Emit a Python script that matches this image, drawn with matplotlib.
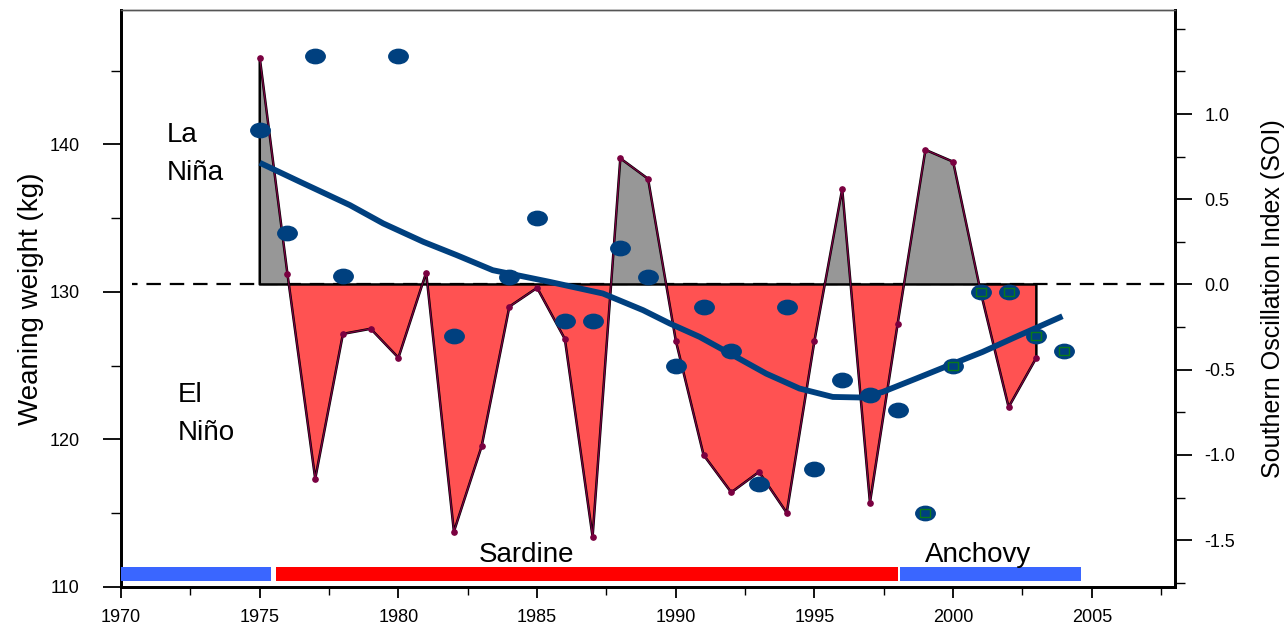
import numpy as np
import matplotlib
matplotlib.use("Agg")
import matplotlib.pyplot as plt
from matplotlib.path import Path
from matplotlib.ticker import MultipleLocator

plt.rcParams['font.family'] = ['Liberation Sans', 'DejaVu Sans']

# SOI, annual values
soi_years = [1975, 1976, 1977, 1978, 1979, 1980, 1981, 1982, 1983, 1984,
             1985, 1986, 1987, 1988, 1989, 1990, 1991, 1992, 1993, 1994,
             1995, 1996, 1997, 1998, 1999, 2000, 2001, 2002, 2003]
soi_values = [1.33, 0.06, -1.14, -0.29, -0.26, -0.43, 0.07, -1.45, -0.95, -0.13,
              -0.02, -0.32, -1.48, 0.74, 0.62, -0.33, -1.00, -1.22, -1.10, -1.34,
              -0.33, 0.56, -1.28, -0.23, 0.79, 0.72, -0.05, -0.72, -0.43]

# weaning weight (kg)
wean_years = [1975, 1976, 1977, 1978, 1980, 1982, 1984, 1985, 1986, 1987,
              1988, 1989, 1990, 1991, 1992, 1993, 1994, 1995, 1996, 1997,
              1998, 1999, 2000, 2001, 2002, 2003, 2004]
wean_weight = [141.0, 134.0, 146.0, 131.1, 146.0, 127.0, 131.0, 135.0, 128.0, 128.0,
               133.0, 131.0, 125.0, 129.0, 126.0, 117.0, 129.0, 118.0, 124.0, 123.0,
               122.0, 115.0, 125.0, 130.0, 130.0, 127.0, 126.0]
# later years flagged with a square
flag_years = [1999, 2000, 2001, 2002, 2003, 2004]
flag_weight = [115.0, 125.0, 130.0, 130.0, 127.0, 126.0]

# smoothed trend of weaning weight
trend_years = [1975.0, 1976.45, 1978.25, 1979.45, 1980.9, 1982.1, 1983.4, 1985.45,
               1987.37, 1988.82, 1989.78, 1990.86, 1992.06, 1993.26, 1994.46,
               1995.66, 1996.74, 1997.46, 1998.66, 1999.86, 2001.06, 2002.26, 2003.94]
trend_weight = [138.75, 137.46, 135.88, 134.64, 133.39, 132.49, 131.47, 130.68,
                129.89, 128.76, 127.86, 126.95, 125.71, 124.46, 123.45,
                122.88, 122.84, 123.22, 124.12, 125.03, 125.93, 126.95, 128.35]

# fishery regimes
regime_start = [1970.0, 1975.6, 1998.1]
regime_end = [1975.4, 1998.0, 2004.6]
regime_color = ['#3a66ff', '#ff0000', '#3a66ff']

BLUE = '#00407f'
PURPLE = '#7a0040'

soi_years = np.array(soi_years)
soi_values = np.array(soi_values)

# ellipse marker for the blue dots, flat rectangle for the flags
circ = Path.unit_circle()
ellipse = Path(circ.vertices * [1.0, 0.74], circ.codes)
rect = Path([(-1, -0.7), (1, -0.7), (1, 0.7), (-1, 0.7), (-1, -0.7)],
            [Path.MOVETO, Path.LINETO, Path.LINETO, Path.LINETO, Path.CLOSEPOLY])

fig = plt.figure(figsize=(12.88, 6.28), dpi=100)
ax = fig.add_axes([0.094, 0.0653, 0.8183, 0.9187])
ax2 = ax.twinx()
ax.set_zorder(ax2.get_zorder() + 1)
ax.patch.set_visible(False)

# SOI polygons
ax2.fill_between(soi_years, soi_values, 0, where=soi_values >= 0, interpolate=True,
                 facecolor='#979797', edgecolor='black', linewidth=1.8, zorder=2)
ax2.fill_between(soi_years, soi_values, 0, where=soi_values <= 0, interpolate=True,
                 facecolor='#ff5252', edgecolor='black', linewidth=1.8, zorder=2)
ax2.plot(soi_years, soi_values, color=PURPLE, lw=0.9, marker='o', ms=3.8,
         mfc=PURPLE, mec=PURPLE, zorder=3)
ax2.axhline(0, xmin=0.01, xmax=0.997, color='black', lw=1.6,
            linestyle=(4, (6.5, 4.0)), zorder=1)

ax2.set_ylim(-1.775, 1.61)
ax2.yaxis.set_minor_locator(MultipleLocator(0.25))
ax2.set_yticks([-1.5, -1.0, -0.5, 0.0, 0.5, 1.0])
ax2.set_yticklabels(['-1.5', '-1.0', '-0.5', '0.0', '0.5', '1.0'])
ax2.tick_params(axis='y', which='major', length=12, width=1.3, labelsize=13, pad=9)
ax2.tick_params(axis='y', which='minor', length=7, width=1.0)
ax2.set_ylabel('Southern Oscillation Index (SOI)', fontsize=18, labelpad=19)

# weaning weight
ax.plot(trend_years, trend_weight, color=BLUE, lw=4.2, solid_capstyle='butt',
        solid_joinstyle='round', zorder=4)
ax.plot(wean_years, wean_weight, linestyle='none', marker=ellipse, ms=14,
        mfc=BLUE, mec=BLUE, zorder=5)
ax.plot(flag_years, flag_weight, linestyle='none', marker=rect, ms=7.5,
        mfc='none', mec='#0a7a1a', mew=1.0, zorder=6)

# fishery regime bars
for s, e, c in zip(regime_start, regime_end, regime_color):
    ax.barh(110.9, e - s, left=s, height=0.95, color=c, zorder=3)

ax.text(1984.6, 111.72, 'Sardine', fontsize=20, ha='center', va='baseline')
ax.text(2000.9, 111.72, 'Anchovy', fontsize=20, ha='center', va='baseline')
ax.text(1971.65, 140.18, 'La', fontsize=20, va='baseline')
ax.text(1971.65, 137.58, 'Niña', fontsize=20, va='baseline')
ax.text(1972.06, 122.54, 'El', fontsize=20, va='baseline')
ax.text(1972.06, 119.99, 'Niño', fontsize=20, va='baseline')

ax.set_xlim(1970, 2008)
ax.set_ylim(110, 149.1)
ax.set_xticks(range(1970, 2006, 5))
ax.xaxis.set_minor_locator(MultipleLocator(2.5))
ax.set_yticks([110, 120, 130, 140])
ax.yaxis.set_minor_locator(MultipleLocator(5))
ax.tick_params(axis='x', which='major', length=8, width=1.3, labelsize=13, pad=8)
ax.tick_params(axis='x', which='minor', length=6, width=1.0)
ax.tick_params(axis='y', which='major', length=13, width=1.3, labelsize=13, pad=17)
ax.tick_params(axis='y', which='minor', length=7, width=1.0)
ax.set_ylabel('Weaning weight (kg)', fontsize=20, labelpad=4)

for a in (ax, ax2):
    for side in ('left', 'bottom', 'right'):
        a.spines[side].set_linewidth(2.0)
    a.spines['top'].set_linewidth(1.0)
    a.spines['top'].set_color('#555555')

fig.savefig('out.png', dpi=100)
